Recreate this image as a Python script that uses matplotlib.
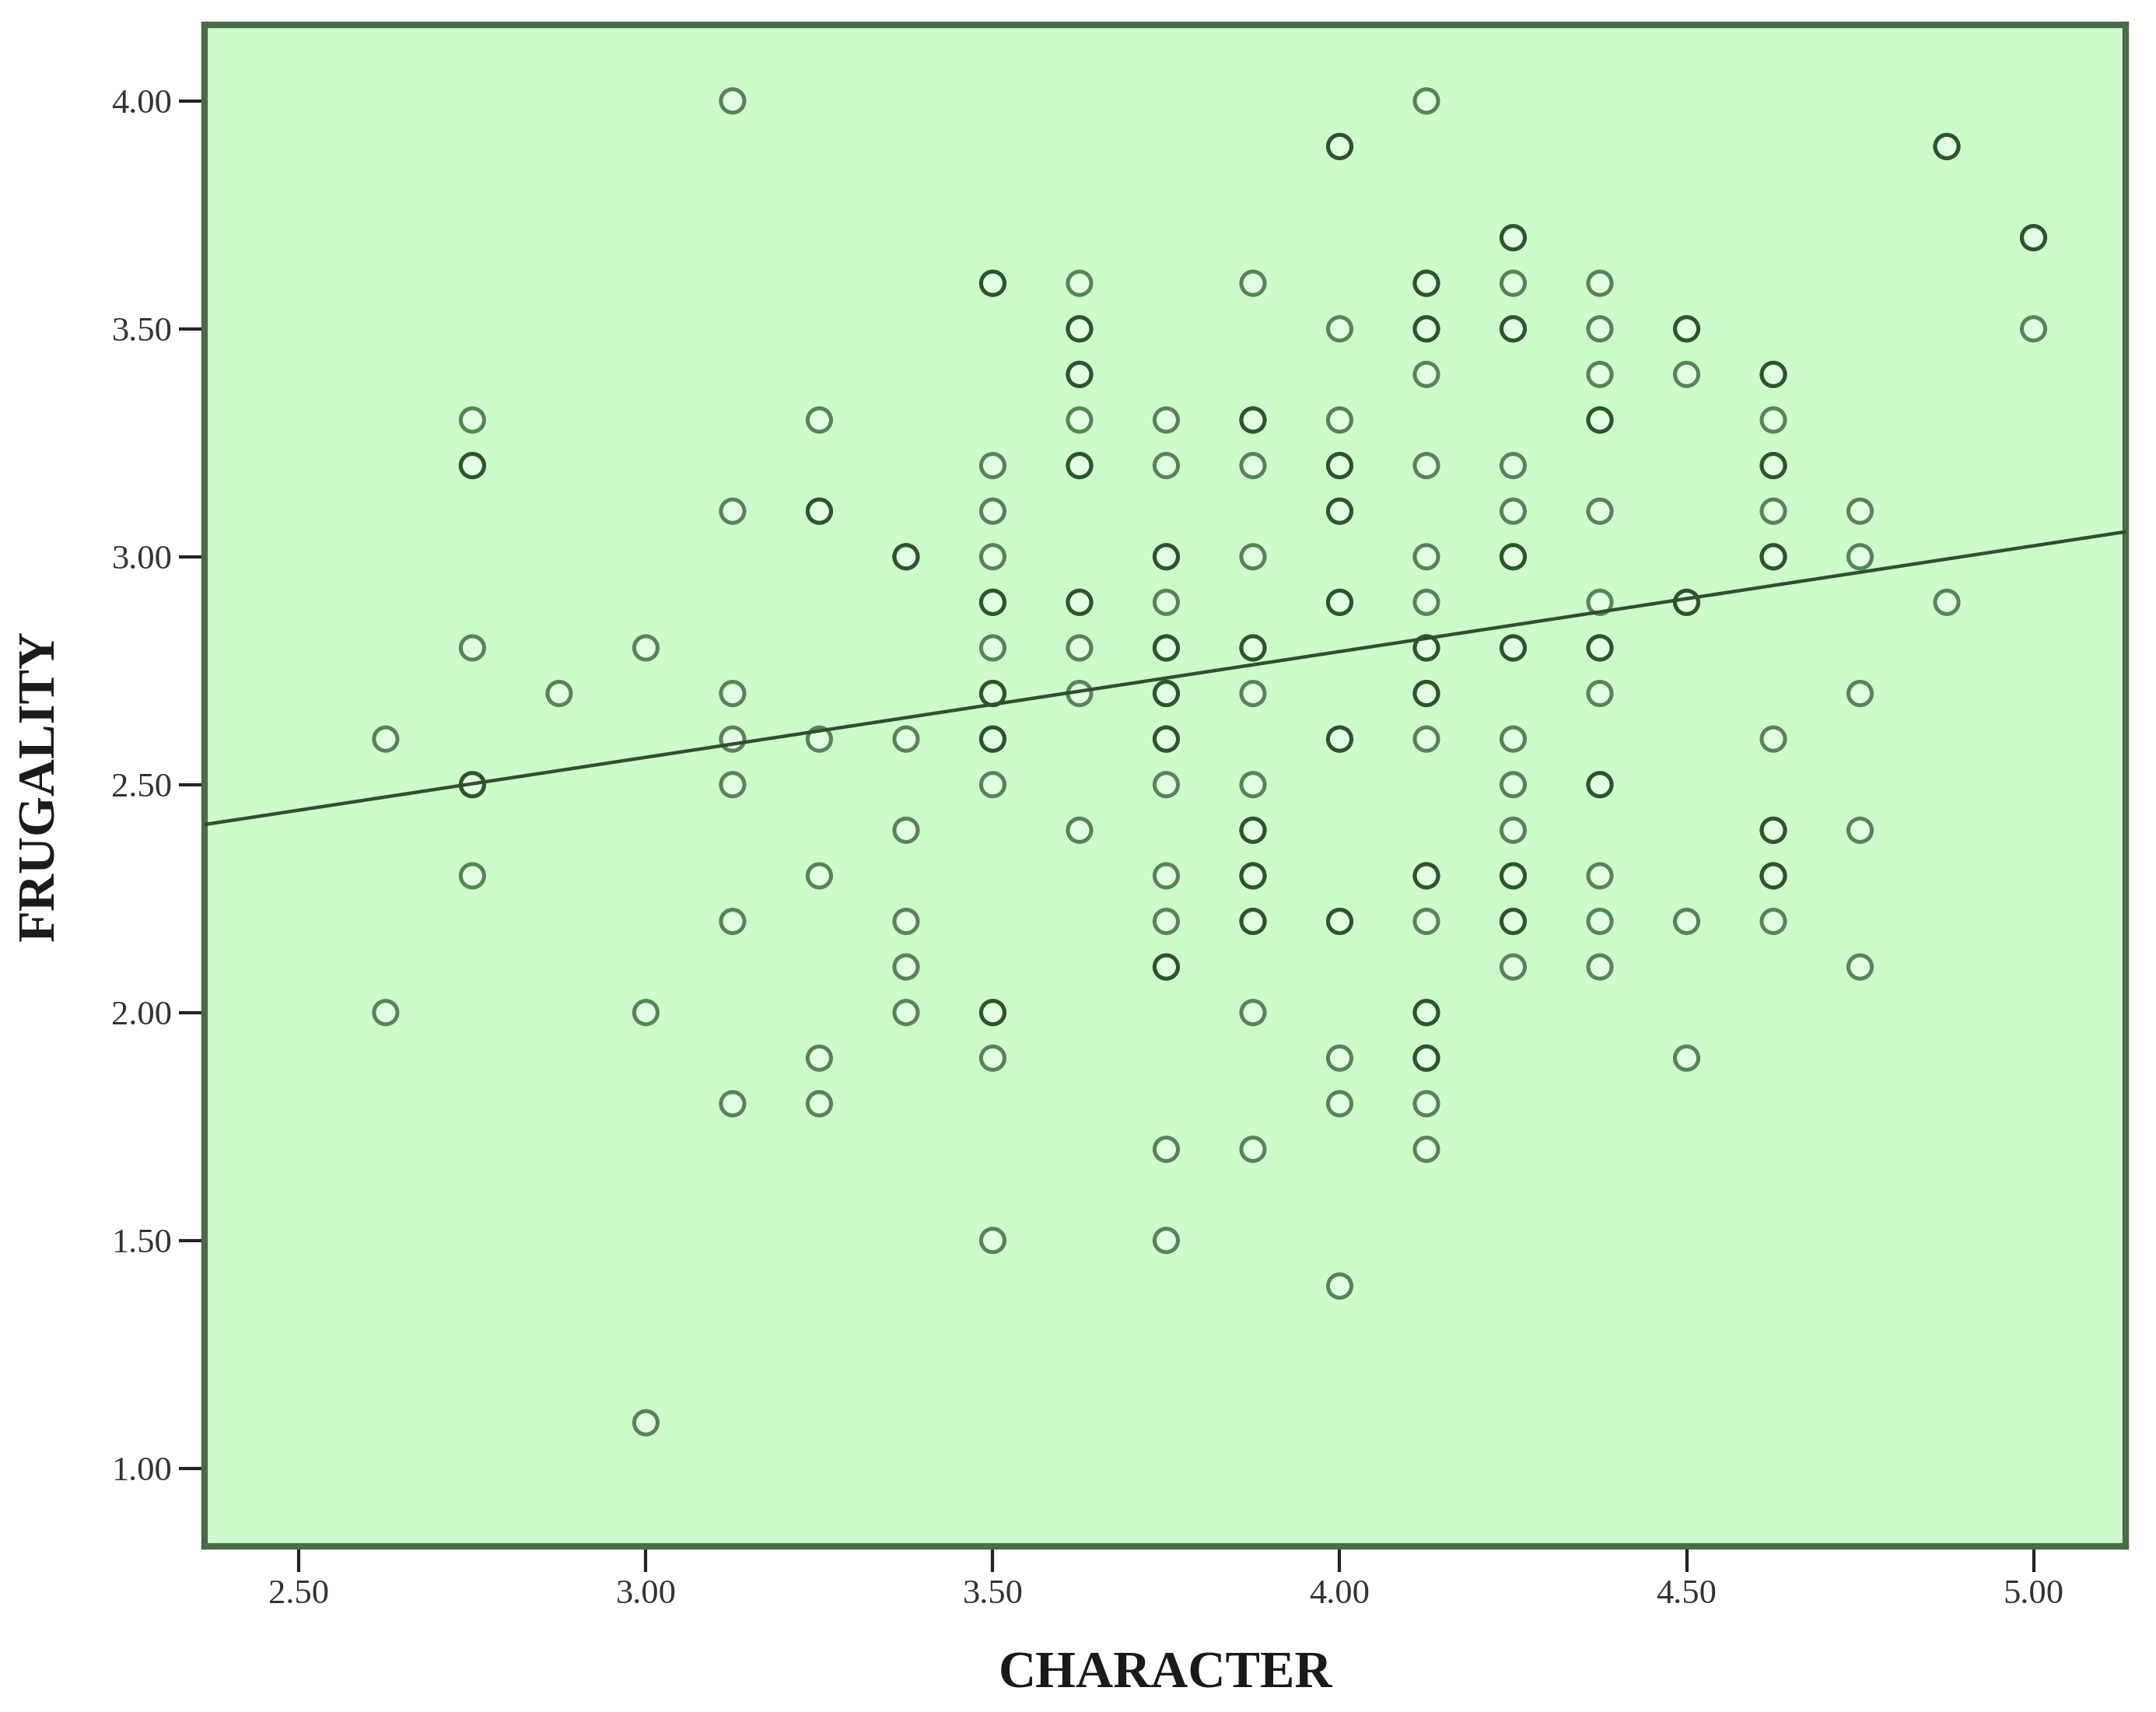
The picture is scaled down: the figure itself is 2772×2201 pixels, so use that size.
import matplotlib
matplotlib.use("Agg")
import matplotlib.pyplot as plt
import numpy as np

# observations, one entry per case (repeated values = overlapping cases)
character = (
    [2.625] * 2 + [2.75] * 7 + [2.875] * 1 + [3.0] * 3 + [3.125] * 7 + [3.25] * 7 +
    [3.375] * 7 + [3.5] * 17 + [3.625] * 13 + [3.75] * 18 + [3.875] * 17 + [4.0] * 17 +
    [4.125] * 23 + [4.25] * 19 + [4.375] * 15 + [4.5] * 7 + [4.625] * 14 + [4.75] * 5 +
    [4.875] * 3 + [5.0] * 3
)
frugality = (
    [2.6, 2.0] +
    [3.3, 3.2, 3.2, 2.8, 2.5, 2.5, 2.3] +
    [2.7] +
    [2.8, 2.0, 1.1] +
    [4.0, 3.1, 2.7, 2.6, 2.5, 2.2, 1.8] +
    [3.3, 3.1, 3.1, 2.6, 2.3, 1.9, 1.8] +
    [3.0, 3.0, 2.6, 2.4, 2.2, 2.1, 2.0] +
    [3.6, 3.6, 3.2, 3.1, 3.0, 2.9, 2.9, 2.8, 2.7, 2.7, 2.6, 2.6, 2.5, 2.0, 2.0, 1.9, 1.5] +
    [3.6, 3.5, 3.5, 3.4, 3.4, 3.3, 3.2, 3.2, 2.9, 2.9, 2.8, 2.7, 2.4] +
    [3.3, 3.2, 3.0, 3.0, 2.9, 2.8, 2.8, 2.7, 2.7, 2.6, 2.6, 2.5, 2.3, 2.2, 2.1, 2.1, 1.7, 1.5] +
    [3.6, 3.3, 3.3, 3.2, 3.0, 2.8, 2.8, 2.7, 2.5, 2.4, 2.4, 2.3, 2.3, 2.2, 2.2, 2.0, 1.7] +
    [3.9, 3.9, 3.5, 3.3, 3.2, 3.2, 3.1, 3.1, 2.9, 2.9, 2.6, 2.6, 2.2, 2.2, 1.9, 1.8, 1.4] +
    [4.0, 3.6, 3.6, 3.5, 3.5, 3.4, 3.2, 3.0, 2.9, 2.8, 2.8, 2.7, 2.7, 2.6, 2.3, 2.3, 2.2,
     2.0, 2.0, 1.9, 1.9, 1.8, 1.7] +
    [3.7, 3.7, 3.6, 3.5, 3.5, 3.2, 3.1, 3.0, 3.0, 2.8, 2.8, 2.6, 2.5, 2.4, 2.3, 2.3, 2.2,
     2.2, 2.1] +
    [3.6, 3.5, 3.4, 3.3, 3.3, 3.1, 2.9, 2.8, 2.8, 2.7, 2.5, 2.5, 2.3, 2.2, 2.1] +
    [3.5, 3.5, 3.4, 2.9, 2.9, 2.2, 1.9] +
    [3.4, 3.4, 3.3, 3.2, 3.2, 3.1, 3.0, 3.0, 2.6, 2.4, 2.4, 2.3, 2.3, 2.2] +
    [3.1, 3.0, 2.7, 2.4, 2.1] +
    [3.9, 3.9, 2.9] +
    [3.7, 3.7, 3.5]
)

# linear fit line
fit_intercept = 1.864
fit_slope = 0.232

x_ticks = [2.5, 3.0, 3.5, 4.0, 4.5, 5.0]
y_ticks = [1.0, 1.5, 2.0, 2.5, 3.0, 3.5, 4.0]

plt.rcParams['font.family'] = ['Liberation Serif', 'DejaVu Serif']

fig = plt.figure(figsize=(27.72, 22.01), dpi=100)
ax = fig.add_axes([0.0949, 0.0968, 0.9860 - 0.0949, 0.9855 - 0.0968])
ax.set_facecolor('#ccfccc')

x = np.array(character)
y = np.array(frugality)

# lighter ring interior, then the circles themselves (overlaps darken)
pts = np.unique(np.column_stack([x, y]), axis=0)
ax.scatter(pts[:, 0], pts[:, 1], s=300, color='#e2fde2', linewidths=0, zorder=2)
ax.scatter(x, y, s=470, facecolors='none', edgecolors=(0.08, 0.22, 0.08, 0.62),
           linewidths=3.6, zorder=3)

xl = np.array([2.364, 5.133])
ax.plot(xl, fit_intercept + fit_slope * xl, color='#2f4f2f', lw=3.2, zorder=4)

ax.set_xlim(2.364, 5.133)
ax.set_ylim(0.829, 4.167)
ax.set_xticks(x_ticks)
ax.set_yticks(y_ticks)
ax.set_xticklabels(['%.2f' % v for v in x_ticks])
ax.set_yticklabels(['%.2f' % v for v in y_ticks])
ax.tick_params(length=24, width=3, color='#222222', labelsize=32,
               labelcolor='#333333', pad=6)

for s in ax.spines.values():
    s.set_color('#4a6a4a')
    s.set_linewidth(6)

ax.set_xlabel('CHARACTER', fontsize=48, fontweight='bold', color='#1a1a1a')
ax.set_ylabel('FRUGALITY', fontsize=48, fontweight='bold', color='#1a1a1a')
ax.xaxis.label.set_va('center')
ax.xaxis.set_label_coords(0.5, -0.0844)
ax.yaxis.label.set_va('center')
ax.yaxis.label.set_ha('center')
ax.yaxis.set_label_coords(-0.085, 0.5)

fig.savefig('out.png', dpi=100, facecolor='white')
